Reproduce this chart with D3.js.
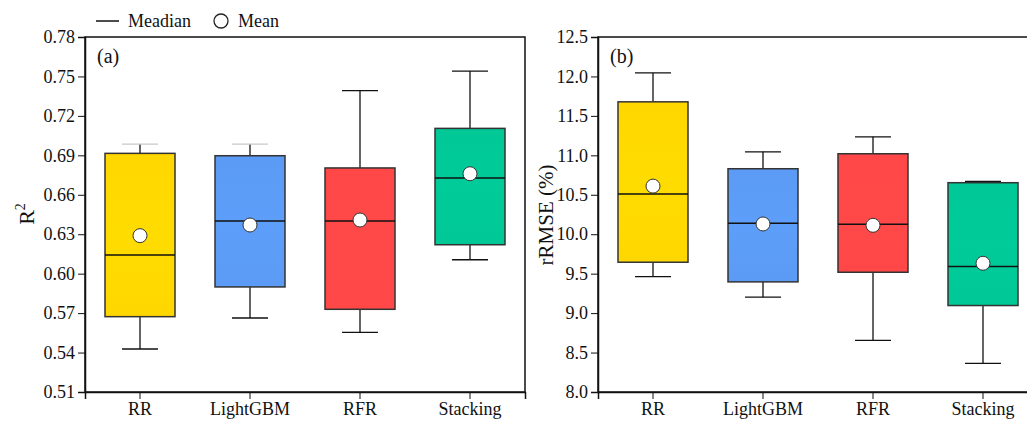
<!DOCTYPE html>
<html><head><meta charset="utf-8">
<script src="https://cdn.jsdelivr.net/npm/d3@7"></script>
<style>body{margin:0;background:#fff}svg{display:block}</style>
</head><body><svg id="c" width="1027" height="421" font-family="Liberation Serif"></svg>
<script>
const categories = ["RR","LightGBM","RFR","Stacking"];
const colors = ["#FFD700","#5B9BF5","#FF4747","#00C896"];
// [lowerWhisker, q1, median, q3, upperWhisker, mean]
const r2Stats = [
  [0.5427,0.5673,0.6142,0.6915,0.6986,0.6289],
  [0.5663,0.5899,0.6401,0.6897,0.6986,0.6370],
  [0.5554,0.5729,0.6401,0.6804,0.7392,0.6408],
  [0.6106,0.6220,0.6728,0.7105,0.7541,0.6760]
];
const rmseStats = [
  [9.463,9.645,10.509,11.678,12.044,10.61],
  [9.202,9.396,10.138,10.830,11.045,10.13],
  [8.654,9.518,10.126,11.020,11.235,10.113],
  [8.363,9.096,9.590,10.653,10.670,9.632]
];
const r2Ticks = [0.51,0.54,0.57,0.60,0.63,0.66,0.69,0.72,0.75,0.78];
const rmseTicks = [8.0,8.5,9.0,9.5,10.0,10.5,11.0,11.5,12.0,12.5];

const FONT = "Liberation Serif";
const svg = d3.select("#c");
const defs = svg.append("defs");
colors.forEach((c,i)=>{
  const g = defs.append("linearGradient").attr("id","g"+i).attr("x1",0).attr("x2",0).attr("y1",0).attr("y2",1);
  const base = d3.color(c);
  [[0,0.0],[0.5,0.06],[1,0.0]].forEach(([o,k])=>{
    g.append("stop").attr("offset",o).attr("stop-color",base.brighter(k).formatHex());
  });
});

function txt(sel, size){
  return sel.attr("font-family",FONT).attr("font-size",size).attr("fill","#111");
}

function panel(x0, stats, ticks, fmt, label, greyCaps){
  const top=37, bottom=392, w=440;
  const x = d3.scaleBand().domain(categories).range([x0, x0+w]).padding(0);
  const y = d3.scaleLinear().domain([ticks[0], ticks[ticks.length-1]]).range([bottom, top]);
  const g = svg.append("g");
  g.append("rect").attr("x",x0).attr("y",top).attr("width",w).attr("height",bottom-top)
    .attr("fill","none").attr("stroke","#111").attr("stroke-width",1.5);
  const ya = g.append("g").attr("transform",`translate(${x0},0)`)
    .call(d3.axisLeft(y).tickValues(ticks).tickFormat(fmt).tickSizeOuter(0).tickSize(7));
  ya.attr("font-family",FONT).attr("font-size",18);
  ya.select(".domain").attr("stroke","#111").attr("stroke-width",1.5);
  ya.selectAll(".tick line").attr("stroke","#111").attr("stroke-width",1);
  txt(ya.selectAll("text"),18).attr("x",-10);
  const xa = g.append("g").attr("transform",`translate(0,${bottom})`)
    .call(d3.axisBottom(x).tickSizeOuter(0).tickSize(7));
  xa.attr("font-family",FONT).attr("font-size",18);
  xa.select(".domain").attr("stroke","#111").attr("stroke-width",1.5);
  xa.selectAll(".tick line").attr("stroke","#111").attr("stroke-width",1);
  txt(xa.selectAll("text"),18).attr("y",10);

  const bw = 70, cw = 36;
  stats.forEach((s,i)=>{
    const cx = x(categories[i]) + x.bandwidth()/2;
    const [lo,q1,med,q3,hi,mean] = s;
    const capCol = (greyCaps && greyCaps[i]) ? "#c8c8c8" : "#111";
    g.append("line").attr("x1",cx).attr("x2",cx).attr("y1",y(hi)).attr("y2",y(q3)).attr("stroke","#111").attr("stroke-width",1.3);
    g.append("line").attr("x1",cx).attr("x2",cx).attr("y1",y(q1)).attr("y2",y(lo)).attr("stroke","#111").attr("stroke-width",1.3);
    g.append("line").attr("x1",cx-cw/2).attr("x2",cx+cw/2).attr("y1",y(hi)).attr("y2",y(hi)).attr("stroke",capCol).attr("stroke-width",1.3);
    g.append("line").attr("x1",cx-cw/2).attr("x2",cx+cw/2).attr("y1",y(lo)).attr("y2",y(lo)).attr("stroke","#111").attr("stroke-width",1.3);
    g.append("rect").attr("x",cx-bw/2).attr("y",y(q3)).attr("width",bw).attr("height",y(q1)-y(q3))
      .attr("fill",`url(#g${i})`).attr("stroke","#333").attr("stroke-width",1.5);
    g.append("line").attr("x1",cx-bw/2).attr("x2",cx+bw/2).attr("y1",y(med)).attr("y2",y(med))
      .attr("stroke","#111").attr("stroke-width",1.5);
    g.append("circle").attr("cx",cx).attr("cy",y(mean)).attr("r",7).attr("fill","#fff").attr("stroke","#333").attr("stroke-width",1);
  });
  txt(g.append("text"),20).attr("x",x0+12).attr("y",63).text(label);
}

panel(85, r2Stats, r2Ticks, d3.format(".2f"), "(a)", [true,true,false,false]);
panel(598, rmseStats, rmseTicks, d3.format(".1f"), "(b)", null);

const t1 = txt(svg.append("text"),22).attr("transform","translate(34,214) rotate(-90)").attr("text-anchor","middle");
t1.append("tspan").text("R");
t1.append("tspan").attr("dy",-9).attr("font-size",14).text("2");
txt(svg.append("text"),21).attr("transform","translate(553,215) rotate(-90)").attr("text-anchor","middle").text("rRMSE (%)");

const leg = svg.append("g");
leg.append("line").attr("x1",96).attr("x2",119).attr("y1",21).attr("y2",21).attr("stroke","#111").attr("stroke-width",1.5);
txt(leg.append("text"),18).attr("x",128).attr("y",27).text("Meadian");
leg.append("circle").attr("cx",221).attr("cy",21).attr("r",7).attr("fill","#fff").attr("stroke","#222").attr("stroke-width",1.3);
txt(leg.append("text"),18).attr("x",238).attr("y",27).text("Mean");
</script></body></html>
